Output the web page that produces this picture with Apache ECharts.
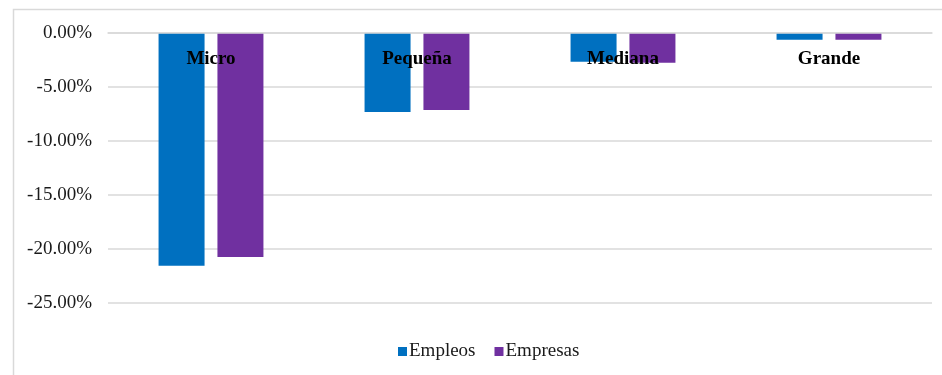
<!DOCTYPE html>
<html>
<head>
<meta charset="utf-8">
<script src="https://cdn.jsdelivr.net/npm/echarts@6/dist/echarts.min.js"></script>
<style>html,body{margin:0;padding:0;background:#fff}#c{width:942px;height:375px}</style>
</head>
<body>
<div id="c"></div>
<script>
var categories = ['Micro', 'Pequeña', 'Mediana', 'Grande'];
var empleos = [-21.55, -7.31, -2.66, -0.62];
var empresas = [-20.74, -7.13, -2.75, -0.62];
var seriesNames = ['Empleos', 'Empresas'];
var yTicks = { min: -25, max: 0, interval: 5 };

var chart = echarts.init(document.getElementById('c'), null, { renderer: 'canvas' });
var serif = '"Liberation Serif", "Times New Roman", serif';
chart.setOption({
  animation: false,
  backgroundColor: '#fff',
  graphic: [{
    type: 'rect', left: 11, top: 7, z: -10,
    shape: { width: 940, height: 380 },
    style: { fill: 'none', stroke: '#d9d9d9', lineWidth: 1.5 }
  }],
  grid: { left: 108, right: 10, top: 33, bottom: 72, containLabel: false },
  legend: {
    data: seriesNames,
    left: 393, top: 337,
    itemWidth: 9, itemHeight: 9, itemGap: 19,
    icon: 'rect',
    textStyle: { fontFamily: serif, fontSize: 19, color: '#1a1a1a', padding: [0, 0, 0, -3] }
  },
  xAxis: {
    type: 'category',
    data: categories,
    position: 'top',
    z: 10,
    axisLine: { show: true, onZero: false, lineStyle: { color: '#d9d9d9', width: 1.5 } },
    axisTick: { show: false },
    axisLabel: { inside: true, margin: 17, fontFamily: serif, fontSize: 19, fontWeight: 'bold', color: '#000' }
  },
  yAxis: {
    type: 'value',
    min: yTicks.min, max: yTicks.max, interval: yTicks.interval,
    axisLine: { show: false },
    axisTick: { show: false },
    splitLine: { lineStyle: { color: '#d9d9d9', width: 1.5 } },
    axisLabel: {
      margin: 16, fontFamily: serif, fontSize: 19, color: '#1a1a1a',
      formatter: function (v) { return (v === 0 ? 0 : v).toFixed(2) + '%'; }
    }
  },
  series: [
    { name: seriesNames[0], type: 'bar', data: empleos, barWidth: 46, barGap: '28%', itemStyle: { color: '#0070C0' } },
    { name: seriesNames[1], type: 'bar', data: empresas, barWidth: 46, barGap: '28%', itemStyle: { color: '#7030A0' } }
  ]
});
</script>
</body>
</html>
